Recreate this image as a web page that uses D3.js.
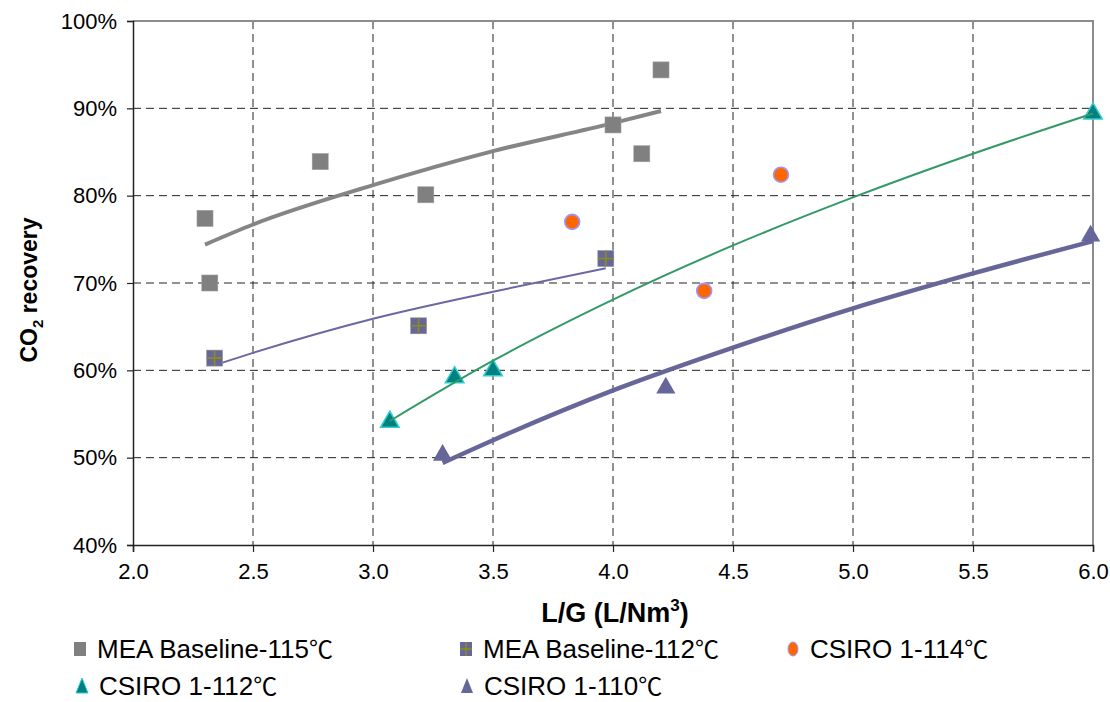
<!DOCTYPE html>
<html>
<head>
<meta charset="utf-8">
<title>CO2 recovery vs L/G</title>
<script src="https://d3js.org/d3.v7.min.js"></script>
<style>
  body { margin: 0; background: #fff; }
  svg text { font-family: "Liberation Sans", Arial, sans-serif; }
</style>
</head>
<body>
<script>
// measured points
const mea115X = [2.30, 2.32, 2.78, 3.22, 4.00, 4.12, 4.20];
const mea115Y = [0.774, 0.700, 0.839, 0.801, 0.881, 0.848, 0.944];
const mea112X = [2.34, 3.19, 3.97];
const mea112Y = [0.614, 0.651, 0.728];
const csiro114X = [3.83, 4.38, 4.70];
const csiro114Y = [0.770, 0.691, 0.824];
const csiro112X = [3.07, 3.34, 3.50, 6.00];
const csiro112Y = [0.542, 0.593, 0.601, 0.895];
const csiro110X = [3.29, 4.22, 5.99];
const csiro110Y = [0.504, 0.581, 0.755];

// trend curves
const trend115X = [2.30, 2.50, 3.00, 3.50, 4.00, 4.20];
const trend115Y = [0.744, 0.767, 0.812, 0.851, 0.883, 0.897];
const trend112X = [2.34, 2.50, 3.00, 3.50, 3.97];
const trend112Y = [0.606, 0.620, 0.659, 0.690, 0.717];
const trendC112X = [3.07, 3.50, 4.00, 4.50, 5.00, 5.50, 6.00];
const trendC112Y = [0.542, 0.611, 0.681, 0.743, 0.798, 0.848, 0.894];
const trendC110X = [3.29, 3.50, 4.00, 4.50, 5.00, 5.50, 6.00];
const trendC110Y = [0.494, 0.520, 0.577, 0.626, 0.671, 0.711, 0.748];

const xTicks = [2.0, 2.5, 3.0, 3.5, 4.0, 4.5, 5.0, 5.5, 6.0];
const yTicks = [0.4, 0.5, 0.6, 0.7, 0.8, 0.9, 1.0];

const legendNames = ["MEA Baseline-115", "MEA Baseline-112", "CSIRO 1-114", "CSIRO 1-112", "CSIRO 1-110"];
const degC = "\u2103";

const width = 1110, height = 702;
const pLeft = 133, pRight = 1093, pTop = 21, pBottom = 545;

const x = d3.scaleLinear().domain([2, 6]).range([pLeft, pRight]);
const y = d3.scaleLinear().domain([0.4, 1.0]).range([pBottom, pTop]);

const svg = d3.select("body").append("svg")
    .attr("width", width).attr("height", height);

const zip = (xs, ys) => xs.map((v, i) => [v, ys[i]]);

// gridlines
svg.append("g").selectAll("line").data(yTicks.slice(1, -1)).join("line")
    .attr("x1", pLeft).attr("x2", pRight)
    .attr("y1", d => y(d)).attr("y2", d => y(d))
    .attr("stroke", "#222").attr("stroke-width", 1).attr("stroke-dasharray", "8,5");
svg.append("g").selectAll("line").data(xTicks.slice(1, -1)).join("line")
    .attr("y1", pTop).attr("y2", pBottom)
    .attr("x1", d => x(d)).attr("x2", d => x(d))
    .attr("stroke", "#222").attr("stroke-width", 1).attr("stroke-dasharray", "8,5");

// top / right border
svg.append("path")
    .attr("d", `M${pLeft},${pTop}H${pRight}V${pBottom}`)
    .attr("fill", "none").attr("stroke", "#8c8c8c").attr("stroke-width", 2);

// axes
const yAxis = d3.axisLeft(y).tickValues(yTicks).tickSize(6).tickPadding(10)
    .tickFormat(d3.format(".0%"));
const xAxis = d3.axisBottom(x).tickValues(xTicks).tickSize(7).tickPadding(11)
    .tickFormat(d3.format(".1f"));
const gy = svg.append("g").attr("transform", `translate(${pLeft},0)`).call(yAxis);
const gx = svg.append("g").attr("transform", `translate(0,${pBottom})`).call(xAxis);
[gx, gy].forEach(g => {
    g.select(".domain").attr("stroke", "#222").attr("stroke-width", 1.5);
    g.selectAll(".tick line").attr("stroke", "#222").attr("stroke-width", 1.2);
    g.selectAll("text").attr("font-size", 22).attr("fill", "#000")
        .attr("font-family", "Liberation Sans, Arial, sans-serif");
});

// axis titles
const xt = svg.append("text").attr("x", (pLeft + pRight) / 2 + 2).attr("y", 622)
    .attr("text-anchor", "middle").attr("font-size", 27).attr("font-weight", "bold");
xt.append("tspan").text("L/G (L/Nm");
xt.append("tspan").attr("font-size", 17).attr("dy", -11).text("3");
xt.append("tspan").attr("dy", 11).text(")");

const yt = svg.append("text").attr("transform", "translate(37,290) rotate(-90)")
    .attr("text-anchor", "middle").attr("font-size", 23).attr("font-weight", "bold");
yt.append("tspan").text("CO");
yt.append("tspan").attr("font-size", 15).attr("dy", 6).text("2");
yt.append("tspan").attr("dy", -6).text(" recovery");

const line = d3.line().x(d => x(d[0])).y(d => y(d[1])).curve(d3.curveMonotoneX);

// markers
const tri = d3.symbol().type(d3.symbolTriangle);

function squares(g, data, size, fill) {
    g.selectAll("rect.m").data(data).join("rect").attr("class", "m")
        .attr("x", d => x(d[0]) - size / 2).attr("y", d => y(d[1]) - size / 2)
        .attr("width", size).attr("height", size)
        .attr("fill", fill).attr("stroke", "#9a9a9a").attr("stroke-width", 0.6);
}

const plot = svg.append("g");

plot.append("path").datum(zip(trend115X, trend115Y)).attr("d", line)
    .attr("fill", "none").attr("stroke", "#858585").attr("stroke-width", 4);
plot.append("path").datum(zip(trend112X, trend112Y)).attr("d", line)
    .attr("fill", "none").attr("stroke", "#6a67a3").attr("stroke-width", 2);

// MEA 115
squares(plot.append("g"), zip(mea115X, mea115Y), 16, "#808080");
// MEA 112 with cross
const g112 = plot.append("g");
squares(g112, zip(mea112X, mea112Y), 16, "#666699");
g112.selectAll("path.c").data(zip(mea112X, mea112Y)).join("path").attr("class", "c")
    .attr("d", d => `M${x(d[0]) - 8},${y(d[1])}h16M${x(d[0])},${y(d[1]) - 8}v16`)
    .attr("stroke", "#8c8c1a").attr("stroke-width", 1.6);

// CSIRO 114
plot.append("g").selectAll("circle").data(zip(csiro114X, csiro114Y)).join("circle")
    .attr("cx", d => x(d[0])).attr("cy", d => y(d[1])).attr("r", 7.5)
    .attr("fill", "#ff6600").attr("stroke", "#9999ff").attr("stroke-width", 1.6);

// CSIRO 112
plot.append("g").selectAll("path").data(zip(csiro112X, csiro112Y)).join("path")
    .attr("transform", d => `translate(${x(d[0])},${y(d[1]) + 1})`)
    .attr("d", tri.size(150))
    .attr("fill", "#008080").attr("stroke", "#33cccc").attr("stroke-width", 1.5);
// CSIRO 110
plot.append("g").selectAll("path").data(zip(csiro110X, csiro110Y)).join("path")
    .attr("transform", d => `translate(${x(d[0])},${y(d[1]) + 1})`)
    .attr("d", tri.size(160))
    .attr("fill", "#666699");

plot.append("path").datum(zip(trendC112X, trendC112Y)).attr("d", line)
    .attr("fill", "none").attr("stroke", "#339966").attr("stroke-width", 2);
plot.append("path").datum(zip(trendC110X, trendC110Y)).attr("d", line)
    .attr("fill", "none").attr("stroke", "#666699").attr("stroke-width", 4.5);

// legend
const legendPos = [[80, 649], [466, 649], [793, 649], [82, 686], [467, 686]];
const lg = svg.append("g");
legendPos.forEach((p, i) => {
    const g = lg.append("g").attr("transform", `translate(${p[0]},${p[1]})`);
    if (i === 0) {
        g.append("rect").attr("x", -6).attr("y", -7).attr("width", 12).attr("height", 14).attr("fill", "#808080");
    } else if (i === 1) {
        g.append("rect").attr("x", -6).attr("y", -7).attr("width", 12).attr("height", 14).attr("fill", "#666699");
        g.append("path").attr("d", "M-6,0h12M0,-7v14").attr("stroke", "#8c8c1a").attr("stroke-width", 1.5);
    } else if (i === 2) {
        g.append("ellipse").attr("rx", 5).attr("ry", 7).attr("fill", "#ff6600")
            .attr("stroke", "#9999ff").attr("stroke-width", 1);
    } else if (i === 3) {
        g.append("path").attr("d", "M0,-8L6,7H-6Z").attr("fill", "#008080")
            .attr("stroke", "#33cccc").attr("stroke-width", 1);
    } else {
        g.append("path").attr("d", "M0,-8L6,7H-6Z").attr("fill", "#666699");
    }
    const t = g.append("text").attr("x", 17).attr("y", 9).attr("font-size", 26);
    t.append("tspan").text(legendNames[i]);
    t.append("tspan").attr("font-family", "Noto Sans CJK SC, sans-serif").attr("font-size", 24).text(degC);
});
</script>
</body>
</html>
